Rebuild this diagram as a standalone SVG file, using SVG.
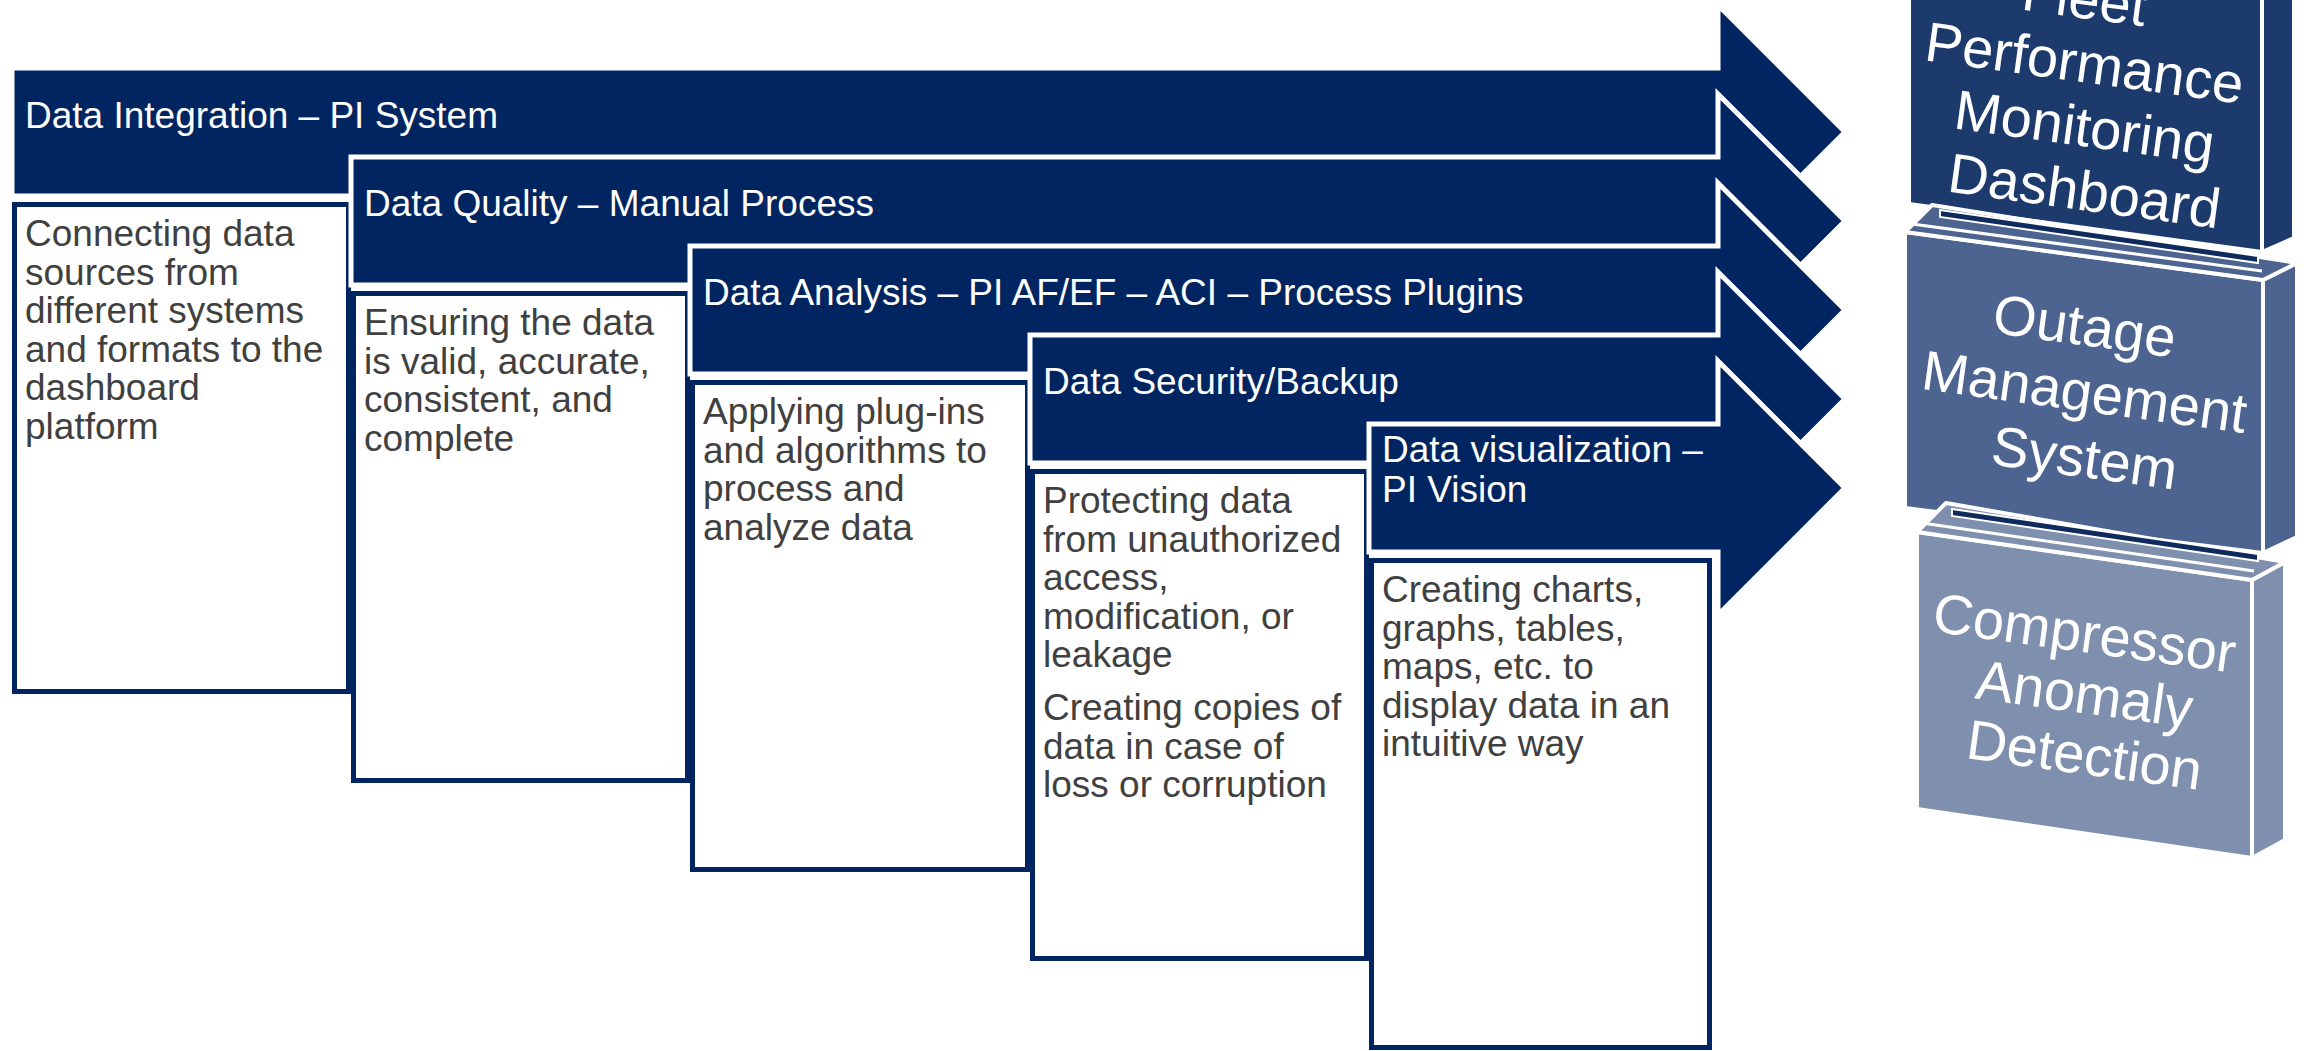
<svg xmlns="http://www.w3.org/2000/svg" width="2313" height="1051" viewBox="0 0 2313 1051">
  <style>
    .hdr { fill: #012560; stroke: #ffffff; stroke-width: 5; stroke-linejoin: miter; }
    .box { fill: #ffffff; stroke: #012560; stroke-width: 5; }
    .ht { font-family: "Liberation Sans", Arial, sans-serif; font-size: 37px; fill: #ffffff; }
    .dt { font-family: "Liberation Sans", Arial, sans-serif; font-size: 37px; fill: #404040; }
    .face { stroke: #ffffff; stroke-width: 4; stroke-linejoin: round; }
    .stripe { fill: #0f2a5c; stroke: #ffffff; stroke-width: 2; }
    .rim { stroke: #ffffff; stroke-width: 3; fill: none; }
    .bt { font-family: "Liberation Sans", Arial, sans-serif; font-size: 56px; fill: #ffffff; text-anchor: middle; }
    .fleet { fill: #1d3a6d; }
    .outage { fill: #4c648f; }
    .comp { fill: #7f8fae; }
  </style>

  <rect x="0" y="0" width="2313" height="1051" fill="#ffffff"/>

  <!-- Stage 1: integration -->
  <g id="stage-integration">
    <polygon class="hdr" points="12,68 1718,68 1718,5 1845,132 1718,259 1718,196 12,196"/>
    <text class="ht" x="25" y="128">Data Integration – PI System</text>
    <rect class="box" x="14.5" y="204.5" width="334" height="487"/>
    <text class="dt">
      <tspan x="25" y="246">Connecting data</tspan>
      <tspan x="25" y="284.5">sources from</tspan>
      <tspan x="25" y="323">different systems</tspan>
      <tspan x="25" y="361.5">and formats to the</tspan>
      <tspan x="25" y="400">dashboard</tspan>
      <tspan x="25" y="438.5">platform</tspan>
    </text>
  </g>

  <!-- Stage 2: quality -->
  <g id="stage-quality">
    <polygon class="hdr" points="351,157 1718,157 1718,94 1845,221 1718,348 1718,285 351,285"/>
    <text class="ht" x="364" y="216">Data Quality – Manual Process</text>
    <rect class="box" x="353.5" y="293.5" width="334" height="487"/>
    <text class="dt">
      <tspan x="364" y="335">Ensuring the data</tspan>
      <tspan x="364" y="373.5">is valid, accurate,</tspan>
      <tspan x="364" y="412">consistent, and</tspan>
      <tspan x="364" y="450.5">complete</tspan>
    </text>
  </g>

  <!-- Stage 3: analysis -->
  <g id="stage-analysis">
    <polygon class="hdr" points="690,246 1718,246 1718,183 1845,310 1718,437 1718,374 690,374"/>
    <text class="ht" x="703" y="305">Data Analysis – PI AF/EF – ACI – Process Plugins</text>
    <rect class="box" x="692.5" y="382.5" width="335" height="487"/>
    <text class="dt">
      <tspan x="703" y="424">Applying plug-ins</tspan>
      <tspan x="703" y="462.5">and algorithms to</tspan>
      <tspan x="703" y="501">process and</tspan>
      <tspan x="703" y="539.5">analyze data</tspan>
    </text>
  </g>

  <!-- Stage 4: security -->
  <g id="stage-security">
    <polygon class="hdr" points="1030,335 1718,335 1718,272 1845,399 1718,526 1718,463 1030,463"/>
    <text class="ht" x="1043" y="394">Data Security/Backup</text>
    <rect class="box" x="1032.5" y="471.5" width="334" height="487"/>
    <text class="dt">
      <tspan x="1043" y="513">Protecting data</tspan>
      <tspan x="1043" y="551.5">from unauthorized</tspan>
      <tspan x="1043" y="590">access,</tspan>
      <tspan x="1043" y="628.5">modification, or</tspan>
      <tspan x="1043" y="667">leakage</tspan>
      <tspan x="1043" y="720">Creating copies of</tspan>
      <tspan x="1043" y="758.5">data in case of</tspan>
      <tspan x="1043" y="797">loss or corruption</tspan>
    </text>
  </g>

  <!-- Stage 5: visualization -->
  <g id="stage-visualization">
    <polygon class="hdr" points="1369,424 1718,424 1718,361 1845,488 1718,615 1718,552 1369,552"/>
    <text class="ht">
      <tspan x="1382" y="462">Data visualization –</tspan>
      <tspan x="1382" y="502">PI Vision</tspan>
    </text>
    <rect class="box" x="1371.5" y="560.5" width="338" height="487"/>
    <text class="dt">
      <tspan x="1382" y="602">Creating charts,</tspan>
      <tspan x="1382" y="640.5">graphs, tables,</tspan>
      <tspan x="1382" y="679">maps, etc. to</tspan>
      <tspan x="1382" y="717.5">display data in an</tspan>
      <tspan x="1382" y="756">intuitive way</tspan>
    </text>
  </g>

  <g id="connectors"/>

  <!-- Stacked application blocks -->
  <g id="block-fleet">
    <polygon class="face fleet" points="1909,-60 2262,-14 2262,252 1909,204"/>
    <polygon class="face fleet" points="2262,-14 2294,-30 2294,238 2262,252"/>
    <text class="bt" x="2082" y="18" transform="rotate(7.8 2082 18)">Fleet</text>
    <text class="bt" x="2082" y="82" transform="rotate(7.8 2082 82)">Performance</text>
    <text class="bt" x="2082" y="146" transform="rotate(7.8 2082 146)">Monitoring</text>
    <text class="bt" x="2082" y="210" transform="rotate(7.8 2082 210)">Dashboard</text>
  </g>

  <g id="block-outage">
    <polygon class="face outage" points="1905,232 2263,280 2263,553 1905,508"/>
    <polygon class="face outage" points="2263,280 2297,263 2297,537 2263,553"/>
    <polygon class="face outage" points="1905,232 2263,280 2297,263 1932,205"/>
    <polygon class="stripe" points="1940,210 2258,256 2258,263 1940,217"/>
    <line class="rim" x1="1912" y1="224" x2="2262" y2="271"/>
    <text class="bt" x="2082" y="345" transform="rotate(7.8 2082 345)">Outage</text>
    <text class="bt" x="2082" y="411" transform="rotate(7.8 2082 411)">Management</text>
    <text class="bt" x="2082" y="477" transform="rotate(7.8 2082 477)">System</text>
  </g>

  <g id="block-compressor">
    <polygon class="face comp" points="1917,532 2252,580 2252,858 1917,809"/>
    <polygon class="face comp" points="2252,580 2285,562 2285,840 2252,858"/>
    <polygon class="face comp" points="1917,532 2252,580 2285,562 1946,503"/>
    <polygon class="stripe" points="1952,509 2258,554 2258,561 1952,516"/>
    <line class="rim" x1="1922" y1="523" x2="2254" y2="571"/>
    <text class="bt" x="2082" y="652" transform="rotate(7.8 2082 652)">Compressor</text>
    <text class="bt" x="2082" y="713" transform="rotate(7.8 2082 713)">Anomaly</text>
    <text class="bt" x="2082" y="774" transform="rotate(7.8 2082 774)">Detection</text>
  </g>
</svg>
